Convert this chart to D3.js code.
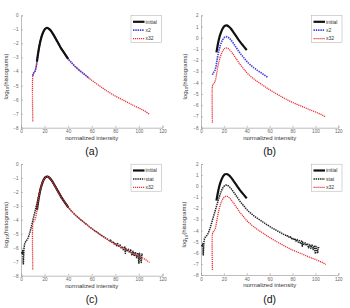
<!DOCTYPE html>
<html lang="en">
<head>
    <meta charset="UTF-8">
    <title>histograms</title>
    <script src="https://d3js.org/d3.v7.min.js"></script>
    <style>
        body { margin: 0; background: #fff; }
        text { font-family: "Liberation Sans", Arial, sans-serif; }
    </style>
</head>
<body>

    <svg width="350" height="308"></svg>

</body>

<script>

    // x axis ticks and y ticks
    var xTicks = [0, 20, 40, 60, 80, 100, 120];
    var yTicksA = [0, -1, -2, -3, -4, -5, -6, -7, -8];
    var yTicksB = [2, 1, 0, -1, -2, -3, -4, -5, -6, -7, -8];

    // base log10 histogram curve
    var baseX = [10, 10.5, 11, 12, 13, 13.5, 14, 15, 16, 17, 18, 19, 20, 21, 22, 23, 24, 25, 26, 28, 30, 32, 34, 36, 38, 40,
        42, 44, 46, 48, 50, 52, 54, 56, 58, 60, 65, 70, 75, 80, 85, 90, 95, 100, 105, 109];
    var baseY = [-4.3, -4.15, -4.08, -3.95, -3.6, -3.3, -3.0, -2.45, -2.0, -1.65, -1.38, -1.17, -1.02, -0.93, -0.9, -0.92, -0.98, -1.07, -1.18, -1.45, -1.75, -2.05, -2.35, -2.6, -2.85, -3.1,
        -3.3, -3.48, -3.65, -3.8, -3.95, -4.08, -4.22, -4.35, -4.5, -4.62, -4.93, -5.22, -5.5, -5.75, -5.97, -6.18, -6.4, -6.6, -6.82, -7.05];

    // ranges of the three base series
    var initialRange = [13.5, 40];
    var x2Range = [10, 58];
    var x32Drop = -7.55; // bottom of the vertical red segment at x = 10

    // "stat" curve (panel c)
    var statX = [0.5, 1, 1.5, 2, 2.5, 3, 4, 5, 6, 7, 8, 9, 10, 11, 12, 13, 14, 15, 16, 17, 18, 19, 20, 21, 22, 23, 24, 25, 26, 28, 30,
        32, 34, 36, 38, 40, 42, 44, 46, 48, 50, 52, 54, 56, 58, 60, 62, 64, 66, 68, 70, 72, 74, 75, 76, 77, 78, 79, 80,
        81, 82, 83, 84, 85, 86, 87, 88, 88.5, 89, 90, 91, 92, 93, 94, 95, 96, 97, 98, 99, 100, 100.5, 101, 102, 102.5, 103];
    var statY = [-6.3, -6.45, -6.2, -7.2, -6.1, -5.75, -5.55, -5.45, -5.3, -5.05, -4.75, -4.4, -4.05, -3.7, -3.35, -3.0, -2.65, -2.3, -1.95, -1.65, -1.38, -1.17, -1.02, -0.93, -0.9, -0.92, -0.98, -1.07, -1.18, -1.45, -1.75,
        -2.05, -2.35, -2.6, -2.85, -3.1, -3.3, -3.48, -3.65, -3.8, -3.95, -4.08, -4.22, -4.35, -4.5, -4.62, -4.75, -4.86, -4.98, -5.1, -5.2, -5.33, -5.42, -5.5, -5.45, -5.6, -5.55, -5.72, -5.65,
        -5.85, -5.7, -5.95, -5.8, -6.05, -5.9, -6.2, -5.95, -6.4, -6.05, -6.25, -6.1, -6.35, -6.15, -6.55, -6.25, -6.6, -6.3, -6.7, -6.35, -7.1, -6.4, -6.6, -7.05, -6.45, -6.6];

    // vertical offsets of each series per panel
    var offsetsA = {initial: 0, x2: 0, x32: 0};
    var offsetsB = {initial: 2, x2: 1, x32: 0};
    var offsetsC = {initial: 0, stat: 0, x32: 0};
    var offsetsD = {initial: 2, stat: 1, x32: 0};

    var styles = {
        initial: {color: '#111', width: 2.2, dash: null},
        x2: {color: '#4040dd', width: 1.7, dash: '1.4,0.9'},
        x32: {color: '#e8333a', width: 1.3, dash: '1.2,0.8'},
        stat: {color: '#222', width: 1.5, dash: '1.4,0.8'}
    };

    function basePoints(lo, hi) {
        var pts = [];
        baseX.forEach(function (x, i) {
            if (x >= lo && x <= hi) pts.push([x, baseY[i]]);
        });
        return pts;
    }

    var seriesPoints = {
        initial: basePoints(initialRange[0], initialRange[1]),
        x2: basePoints(x2Range[0], x2Range[1]),
        x32: [[baseX[0], x32Drop]].concat(basePoints(0, 200)),
        stat: statX.map(function (x, i) { return [x, statY[i]]; })
    };

    var panels = [
        {cap: '(a)', left: 21, right: 162.5, top: 15.3, bottom: 127.7, yTicks: yTicksA, ylabX: 7.5,
            legend: ['initial', 'x2', 'x32'], order: ['x32', 'x2', 'initial'], off: offsetsA},
        {cap: '(b)', left: 201, right: 338.3, top: 15.3, bottom: 127.7, yTicks: yTicksB, ylabX: 186.5,
            legend: ['initial', 'x2', 'x32'], order: ['initial', 'x2', 'x32'], off: offsetsB},
        {cap: '(c)', left: 21, right: 162.5, top: 164, bottom: 275.7, yTicks: yTicksA, ylabX: 7.5,
            legend: ['initial', 'stat', 'x32'], order: ['initial', 'stat', 'x32'], off: offsetsC},
        {cap: '(d)', left: 201, right: 338.3, top: 164, bottom: 275, yTicks: yTicksB, ylabX: 186,
            legend: ['initial', 'stat', 'x32'], order: ['initial', 'stat', 'x32'], off: offsetsD}
    ];

    var svg = d3.select('svg');

    panels.forEach(function (p) {
        var g = svg.append('g');

        var scaleX = d3.scaleLinear().domain([0, 120]).range([p.left, p.right]);
        var scaleY = d3.scaleLinear()
            .domain([d3.min(p.yTicks), d3.max(p.yTicks)])
            .range([p.bottom, p.top]);

        // axes (ticks inward, MATLAB style)
        var axisX = d3.axisBottom(scaleX).tickValues(xTicks).tickSize(-2).tickPadding(2.5);
        var axisY = d3.axisLeft(scaleY).tickValues(p.yTicks).tickSize(-2).tickPadding(2.5);

        var gx = g.append('g').attr('transform', 'translate(0,' + p.bottom + ')').call(axisX);
        var gy = g.append('g').attr('transform', 'translate(' + p.left + ',0)').call(axisY);
        [gx, gy].forEach(function (a) {
            a.select('.domain').attr('stroke', '#a0a0a0').attr('stroke-width', 0.7);
            a.selectAll('.tick line').attr('stroke', '#a0a0a0').attr('stroke-width', 0.6);
            a.selectAll('.tick text').attr('fill', '#666').attr('font-size', 4.6)
                .attr('font-family', '"Liberation Sans", Arial, sans-serif');
        });

        // curves
        var line = d3.line()
            .x(function (d) { return scaleX(d[0]); })
            .y(function (d) { return scaleY(d[1]); });

        p.order.forEach(function (name) {
            var st = styles[name];
            var off = p.off[name];
            var pts = seriesPoints[name].map(function (d) { return [d[0], d[1] + off]; });
            var curve = name === 'stat' ? d3.curveLinear : d3.curveCatmullRom.alpha(0.5);
            g.append('path')
                .datum(pts)
                .attr('d', line.curve(curve))
                .attr('fill', 'none')
                .attr('stroke', st.color)
                .attr('stroke-width', st.width)
                .attr('stroke-dasharray', st.dash)
                .attr('stroke-linejoin', 'round');
        });

        // legend
        var lw = 28.5, lh = 27;
        var lx = p.right - (p.left === 21 ? 31.5 : 26.8);
        var ly = p.top + 0.2;
        var lg = g.append('g').attr('transform', 'translate(' + lx + ',' + ly + ')');
        lg.append('rect').attr('width', lw + 2).attr('height', lh)
            .attr('fill', '#fff').attr('stroke', '#aaa').attr('stroke-width', 0.5);
        p.legend.forEach(function (name, i) {
            var st = styles[name];
            var yy = 6.3 + i * 8.4;
            lg.append('line').attr('x1', 2).attr('x2', 13.5).attr('y1', yy).attr('y2', yy)
                .attr('stroke', st.color).attr('stroke-width', st.width)
                .attr('stroke-dasharray', st.dash);
            lg.append('text').attr('x', 14.5).attr('y', yy + 1.7)
                .attr('font-size', 5).attr('fill', '#333').text(name);
        });

        // axis titles
        var cx = (p.left + p.right) / 2;
        g.append('text').attr('x', cx).attr('y', p.bottom + 12)
            .attr('text-anchor', 'middle').attr('font-size', 6).attr('fill', '#333')
            .text('normalized intensity');

        var cy = (p.top + p.bottom) / 2 + 5;
        var yl = g.append('text')
            .attr('transform', 'translate(' + p.ylabX + ',' + cy + ') rotate(-90)')
            .attr('text-anchor', 'middle').attr('font-size', 6).attr('fill', '#333');
        yl.append('tspan').text('log');
        yl.append('tspan').attr('font-size', 4.2).attr('dy', 1.6).text('10');
        yl.append('tspan').attr('dy', -1.6).text('(histograms)');

        // caption
        g.append('text').attr('x', cx).attr('y', p.bottom + 27.5)
            .attr('text-anchor', 'middle').attr('font-size', 10.5)
            .attr('font-family', '"Liberation Serif", "Times New Roman", serif')
            .attr('fill', '#111').text(p.cap);
    });

</script>

</html>
